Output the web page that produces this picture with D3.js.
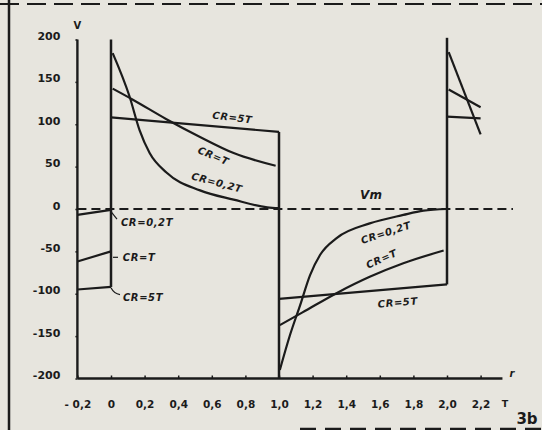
<!DOCTYPE html>
<html>
<head>
<meta charset="utf-8">
<script src="https://cdn.jsdelivr.net/npm/d3@7"></script>
<style>
  html, body { margin: 0; padding: 0; background: #e7e5de; }
  svg text { font-family: "DejaVu Sans", sans-serif; fill: #1b1b1b; }
</style>
</head>
<body>
<div id="chart"></div>
<script>
// tick values
const tTicks = [-0.2, 0, 0.2, 0.4, 0.6, 0.8, 1.0, 1.2, 1.4, 1.6, 1.8, 2.0, 2.2];
const vTicks = [200, 150, 100, 50, 0, -50, -100, -150, -200];

// CR = 0,2T  [t, V]
const cr02Pre = [[-0.2, -7], [0, -1]];
const cr02A = [[0.01, 184], [0.11, 133], [0.17, 93], [0.23, 66], [0.33, 43], [0.53, 22], [0.73, 11], [0.93, 2], [1.0, 1]];
const cr02B = [[1.005, -190], [1.065, -149], [1.125, -114], [1.185, -78], [1.245, -54], [1.345, -34], [1.54, -17], [1.74, -7], [1.86, -2], [2.0, 0]];
const cr02C = [[2.01, 185], [2.2, 88]];

// CR = T
const crTPre = [[-0.2, -62], [0, -50]];
const crTA = [[0.01, 142], [0.13, 129], [0.33, 106], [0.53, 85], [0.73, 66], [0.98, 51]];
const crTB = [[1.005, -137], [1.14, -122], [1.345, -99], [1.54, -80], [1.74, -64], [1.98, -49]];
const crTC = [[2.01, 141], [2.2, 120]];

// CR = 5T
const cr5Pre = [[-0.2, -95], [0, -92]];
const cr5A = [[0, 108], [1, 91]];
const cr5B = [[1, -106], [2, -89]];
const cr5C = [[2, 109], [2.2, 107]];

// vertical edges: [t, from V, to V]
const edges = [[0, -92, 200], [1, 91, -200], [2, -89, 202]];

const W = 542, H = 430;
const ink = "#1b1b1b";

const svg = d3.select("#chart")
    .append("svg")
    .attr("width", W)
    .attr("height", H);

const x = d3.scaleLinear().domain([0, 2]).range([111, 447]);
const y = d3.scaleLinear().domain([-200, 200]).range([378.5, 39.5]);

// frame of the scanned page
svg.append("line").attr("x1", 0).attr("x2", W).attr("y1", 4).attr("y2", 4)
    .attr("stroke", ink).attr("stroke-width", 2.2).attr("stroke-dasharray", "19,8");
svg.append("line").attr("x1", 9).attr("x2", 9).attr("y1", 0).attr("y2", H)
    .attr("stroke", ink).attr("stroke-width", 2.5);
svg.append("line").attr("x1", 300).attr("x2", W).attr("y1", 429).attr("y2", 429)
    .attr("stroke", ink).attr("stroke-width", 2.5).attr("stroke-dasharray", "16,9");

// axes
const xAxis = d3.axisBottom(x).tickValues(tTicks).tickSize(0)
    .tickFormat(d => d === 0 ? "0" : (d < 0 ? "- " : "") + d3.format(".1f")(Math.abs(d)).replace(".", ","));
const gx = svg.append("g").attr("transform", `translate(0,${y(-200)})`).call(xAxis);
gx.select(".domain").attr("d", `M${x(-0.2)},0H${x(2.33)}`).attr("stroke", ink).attr("stroke-width", 2.5);
gx.selectAll("text").attr("dy", 0).attr("y", 29)
    .style("font-size", "10.5px").style("font-weight", "bold");
gx.selectAll(".tick").append("line").attr("y1", 0).attr("y2", -3).attr("stroke", ink).attr("stroke-width", 1.5);

const yAxis = d3.axisLeft(y).tickValues(vTicks).tickSize(0).tickPadding(17)
    .tickFormat(d => d < 0 ? "-" + Math.abs(d) : d);
const gy = svg.append("g").attr("transform", `translate(${x(-0.2)},0)`).call(yAxis);
gy.select(".domain").attr("d", `M0,${y(200)}V${y(-200)}`).attr("stroke", ink).attr("stroke-width", 2.4);
gy.selectAll("text").attr("dy", "0").attr("y", 0)
    .style("font-size", "11px").style("font-weight", "bold");
gy.selectAll(".tick").append("line").attr("x1", 0).attr("x2", -2).attr("stroke", ink).attr("stroke-width", 1.5);

svg.append("text").attr("x", x(-0.2)).attr("y", 29).attr("text-anchor", "middle")
    .style("font-size", "10px").style("font-weight", "bold").text("V");
svg.append("text").attr("x", 505).attr("y", 407).attr("text-anchor", "middle")
    .style("font-size", "9.5px").style("font-weight", "bold").text("T");
svg.append("text").attr("x", 512).attr("y", 377).attr("text-anchor", "middle")
    .style("font-size", "10px").style("font-style", "italic").style("font-weight", "bold").text("r");
svg.append("text").attr("x", 527).attr("y", 424).attr("text-anchor", "middle")
    .style("font-size", "15px").style("font-weight", "bold").text("3b");

// Vm dashed line
svg.append("line").attr("x1", x(-0.2)).attr("x2", 513).attr("y1", y(0)).attr("y2", y(0))
    .attr("stroke", ink).attr("stroke-width", 1.9).attr("stroke-dasharray", "9,5");

// curves
const line = d3.line().x(d => x(d[0])).y(d => y(d[1])).curve(d3.curveMonotoneX);
const curves = [cr02Pre, cr02A, cr02B, cr02C, crTPre, crTA, crTB, crTC, cr5Pre, cr5A, cr5B, cr5C];
svg.selectAll("path.curve")
    .data(curves)
    .enter()
    .append("path")
    .attr("class", "curve")
    .attr("d", line)
    .attr("fill", "none")
    .attr("stroke", ink)
    .attr("stroke-width", 2.2);

svg.selectAll("line.edge")
    .data(edges)
    .enter()
    .append("line")
    .attr("class", "edge")
    .attr("x1", d => x(d[0])).attr("x2", d => x(d[0]))
    .attr("y1", d => y(d[1])).attr("y2", d => y(d[2]))
    .attr("stroke", ink)
    .attr("stroke-width", 2.5);

// leaders to the left labels
svg.append("path").attr("d", `M${x(0)},${y(-3)} L${x(0) + 6},${y(-12)}`).attr("stroke", ink).attr("stroke-width", 1.2).attr("fill", "none");
svg.append("path").attr("d", `M${x(0) + 2},${y(-57)} L${x(0) + 7},${y(-57)}`).attr("stroke", ink).attr("stroke-width", 1.2).attr("fill", "none");
svg.append("path").attr("d", `M${x(0)},${y(-93)} Q${x(0) + 3},${y(-100)} ${x(0) + 9},${y(-101)}`).attr("stroke", ink).attr("stroke-width", 1.2).attr("fill", "none");

// curve labels: [text, cx, cy, rotation]
const labels = [
    ["CR=5T", 232, 121, 7],
    ["CR=T", 212, 159, 23],
    ["CR=0,2T", 216, 186, 15],
    ["CR=0,2T", 147, 226, 0],
    ["CR=T", 139, 261, 0],
    ["CR=5T", 143, 301, 0],
    ["CR=0,2T", 387, 236, -18],
    ["CR=T", 383, 262, -24],
    ["CR=5T", 398, 306, -5]
];
svg.selectAll("text.lab")
    .data(labels)
    .enter()
    .append("text")
    .attr("class", "lab")
    .attr("text-anchor", "middle")
    .attr("transform", d => `translate(${d[1]},${d[2]}) rotate(${d[3]})`)
    .style("font-size", "10px")
    .style("font-weight", "bold")
    .style("font-style", "italic")
    .style("letter-spacing", "0.6px")
    .text(d => d[0]);

svg.append("text").attr("x", 371).attr("y", 199).attr("text-anchor", "middle")
    .style("font-size", "12px").style("font-style", "italic").style("font-weight", "bold").text("Vm");
</script>
</body>
</html>
